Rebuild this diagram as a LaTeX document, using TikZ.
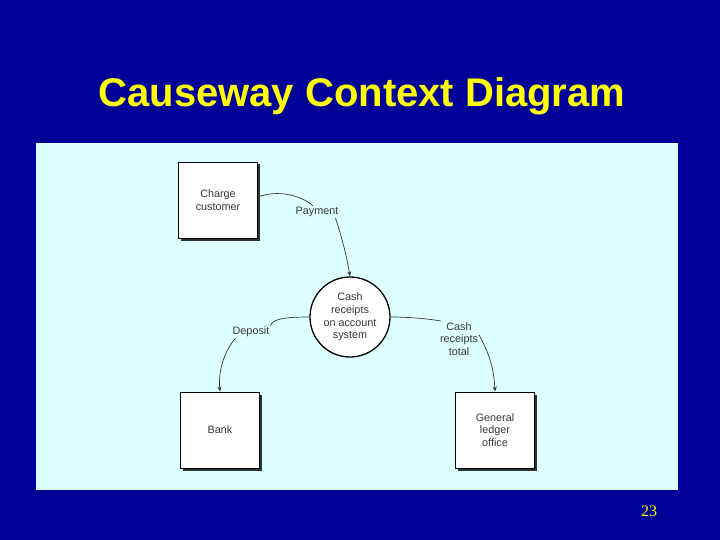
\documentclass[tikz,border=0pt]{standalone}
\usepackage{fontspec}
\setmainfont{Liberation Sans}
\newfontfamily\numfont{Liberation Serif}
\usetikzlibrary{arrows.meta, shadows}
\definecolor{slideblue}{RGB}{0,0,150}
\definecolor{panelcyan}{RGB}{222,255,255}
\definecolor{titleyellow}{RGB}{255,255,0}
\definecolor{inkgray}{RGB}{55,55,55}

\begin{document}
\begin{tikzpicture}[x=1pt, y=-1pt,
  entity/.style = {shape=rectangle, draw=black, line width=0.9pt, fill=white,
    minimum width=79pt, minimum height=76pt, align=center,
    font=\fontsize{10.8}{12.8}\selectfont, text=inkgray,
    drop shadow={shadow xshift=2.5pt, shadow yshift=-2.5pt, opacity=0.8, fill=black}},
  process/.style = {shape=circle, draw=black, line width=1.3pt, fill=white,
    minimum size=80pt, inner sep=0pt, align=center,
    font=\fontsize{10.8}{12.8}\selectfont, text=inkgray},
  flowlabel/.style = {align=center, inner sep=1pt,
    font=\fontsize{10.8}{12.8}\selectfont, text=inkgray},
  flow/.style = {draw=inkgray, line width=0.7pt},
  arrowflow/.style = {flow, -{Stealth[length=5pt, width=4pt]}}]
  \useasboundingbox (0,0) rectangle (720,540);
  \fill[slideblue] (0,0) rectangle (720,540);
  \fill[panelcyan] (36,143) rectangle (678,490);
  % title and page number
  \node (title) at (362,96) {\fontsize{40}{44}\selectfont\bfseries\color{titleyellow}Causeway Context Diagram};
  \node (pagenum) at (649,511) {\numfont\fontsize{16}{18}\selectfont\color{titleyellow}23};
  % entities and process
  \node[entity] (charge) at (218,200) {Charge\\customer};
  \node[entity] (bank) at (220,430) {Bank};
  \node[entity] (ledger) at (495,430) {General\\ledger\\office};
  \node[process] (system) at (350,317) {Cash\\receipts\\on account\\system};
  % flow labels
  \node[flowlabel] (payment) at (317,212) {Payment};
  \node[flowlabel] (deposit) at (251,332) {Deposit};
  \node[flowlabel] (total) at (459,339) {Cash\\receipts\\total};
  % data flows
  \draw[flow] (charge.east) ++(0,-3) coordinate (c1)
    (c1) .. controls (275,190) and (300,194) .. ([xshift=-4pt]payment.north);
  \draw[arrowflow] ([xshift=-4pt]payment.south east) .. controls (340,232) and (346,252) .. (system.north);
  \draw[flow] (system.west) .. controls (290,317) and (272,318) .. (deposit.north east);
  \draw[arrowflow] ([xshift=4pt]deposit.south west) .. controls (225,350) and (218,370) .. (bank.north);
  \draw[flow] (system.east) .. controls (410,317) and (430,319) .. ([xshift=2pt]total.north west);
  \draw[arrowflow] ([yshift=4pt]total.east) .. controls (490,355) and (494,370) .. (ledger.north);
\end{tikzpicture}
\end{document}
